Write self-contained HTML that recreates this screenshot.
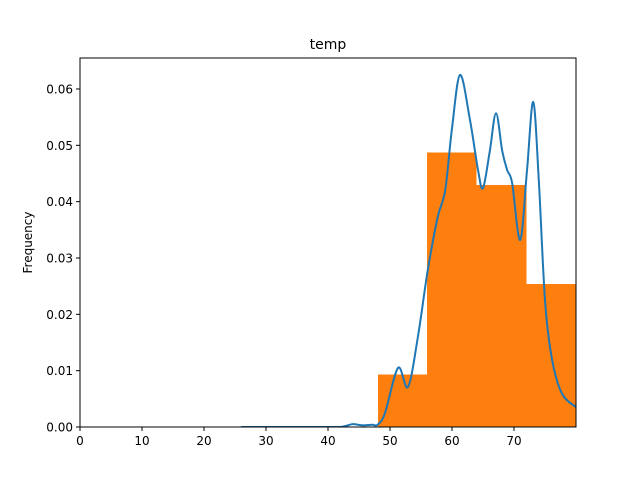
<!DOCTYPE html>
<html><head><meta charset="utf-8"><style>body{margin:0;background:#fff}svg text{font-family:"DejaVu Sans","Liberation Sans",sans-serif}</style></head>
<body>
<svg id="c" width="640" height="480"></svg>
<script>
const binEdges=[48.1,56,63.9,71.9,80];
const binValues=[0.0093,0.0487,0.043,0.0254];
const kdeX=[26,40.3,42.5,44,45.5,47.1,48,49.2,51.3,52.9,54.5,56.1,57.7,58.9,60,61.3,62.9,64.2,65,66.1,67.1,68.1,68.9,69.7,71,72.1,73.1,74,75,76.1,77.7,80];
const kdeY=[0,0,0.0001,0.0005,0.0003,0.0004,0.0004,0.0025,0.0105,0.0071,0.016,0.0279,0.0373,0.042,0.053,0.0625,0.0545,0.0456,0.0424,0.049,0.0557,0.049,0.0456,0.0433,0.0332,0.0456,0.0577,0.0438,0.0225,0.0122,0.006,0.0035];
const xTicks=[0,10,20,30,40,50,60,70];
const yTicks=[0,0.01,0.02,0.03,0.04,0.05,0.06];
const L=80,R=576,T=58,B=427,xMax=80,yMax=0.0655;
const sx=v=>L+v/xMax*(R-L), sy=v=>B-v/yMax*(B-T);
const svg=document.getElementById('c');const NS='http://www.w3.org/2000/svg';
function mk(t,a,p){const e=document.createElementNS(NS,t);for(const k in a)e.setAttribute(k,a[k]);(p||svg).appendChild(e);return e;}
binValues.forEach((v,i)=>{const r=mk('rect',{x:sx(binEdges[i]),y:sy(v),width:sx(binEdges[i+1])-sx(binEdges[i])+0.5,height:B-sy(v),fill:'#ff7f0e','shape-rendering':'crispEdges'});

});
const pts=kdeX.map((x,i)=>[sx(x),sy(kdeY[i])]);
let d='M'+pts[0][0]+','+pts[0][1];
for(let i=0;i<pts.length-1;i++){const p0=pts[Math.max(0,i-1)],p1=pts[i],p2=pts[i+1],p3=pts[Math.min(pts.length-1,i+2)];
d+=` C${p1[0]+(p2[0]-p0[0])/6},${p1[1]+(p2[1]-p0[1])/6} ${p2[0]-(p3[0]-p1[0])/6},${p2[1]-(p3[1]-p1[1])/6} ${p2[0]},${p2[1]}`;}
const cp=mk('clipPath',{id:'clip'});mk('rect',{x:L,y:T,width:R-L,height:B-T},cp);
const line=mk('path',{d:d,fill:'none',stroke:'#1f77b4','stroke-width':2,'clip-path':'url(#clip)'});


const fr=mk('rect',{x:L,y:T,width:R-L,height:B-T,fill:'none',stroke:'#000','stroke-width':1});


xTicks.forEach(v=>{const x=sx(v);mk('line',{x1:x,x2:x,y1:B,y2:B+4,stroke:'#000'});
const t=mk('text',{x:x,y:B+18,'text-anchor':'middle','font-size':12});t.textContent=v;

});
yTicks.forEach(v=>{const y=sy(v);mk('line',{x1:L-4,x2:L,y1:y,y2:y,stroke:'#000'});
const t=mk('text',{x:L-7,y:y+4.5,'text-anchor':'end','font-size':12});t.textContent=v.toFixed(2);

});
const ttl=mk('text',{x:(L+R)/2,y:T-9,'text-anchor':'middle','font-size':14});ttl.textContent='temp';


const yl=mk('text',{x:32,y:(T+B)/2,'text-anchor':'middle','font-size':12,transform:`rotate(-90 32 ${(T+B)/2})`});yl.textContent='Frequency';


</script>
</body></html>
